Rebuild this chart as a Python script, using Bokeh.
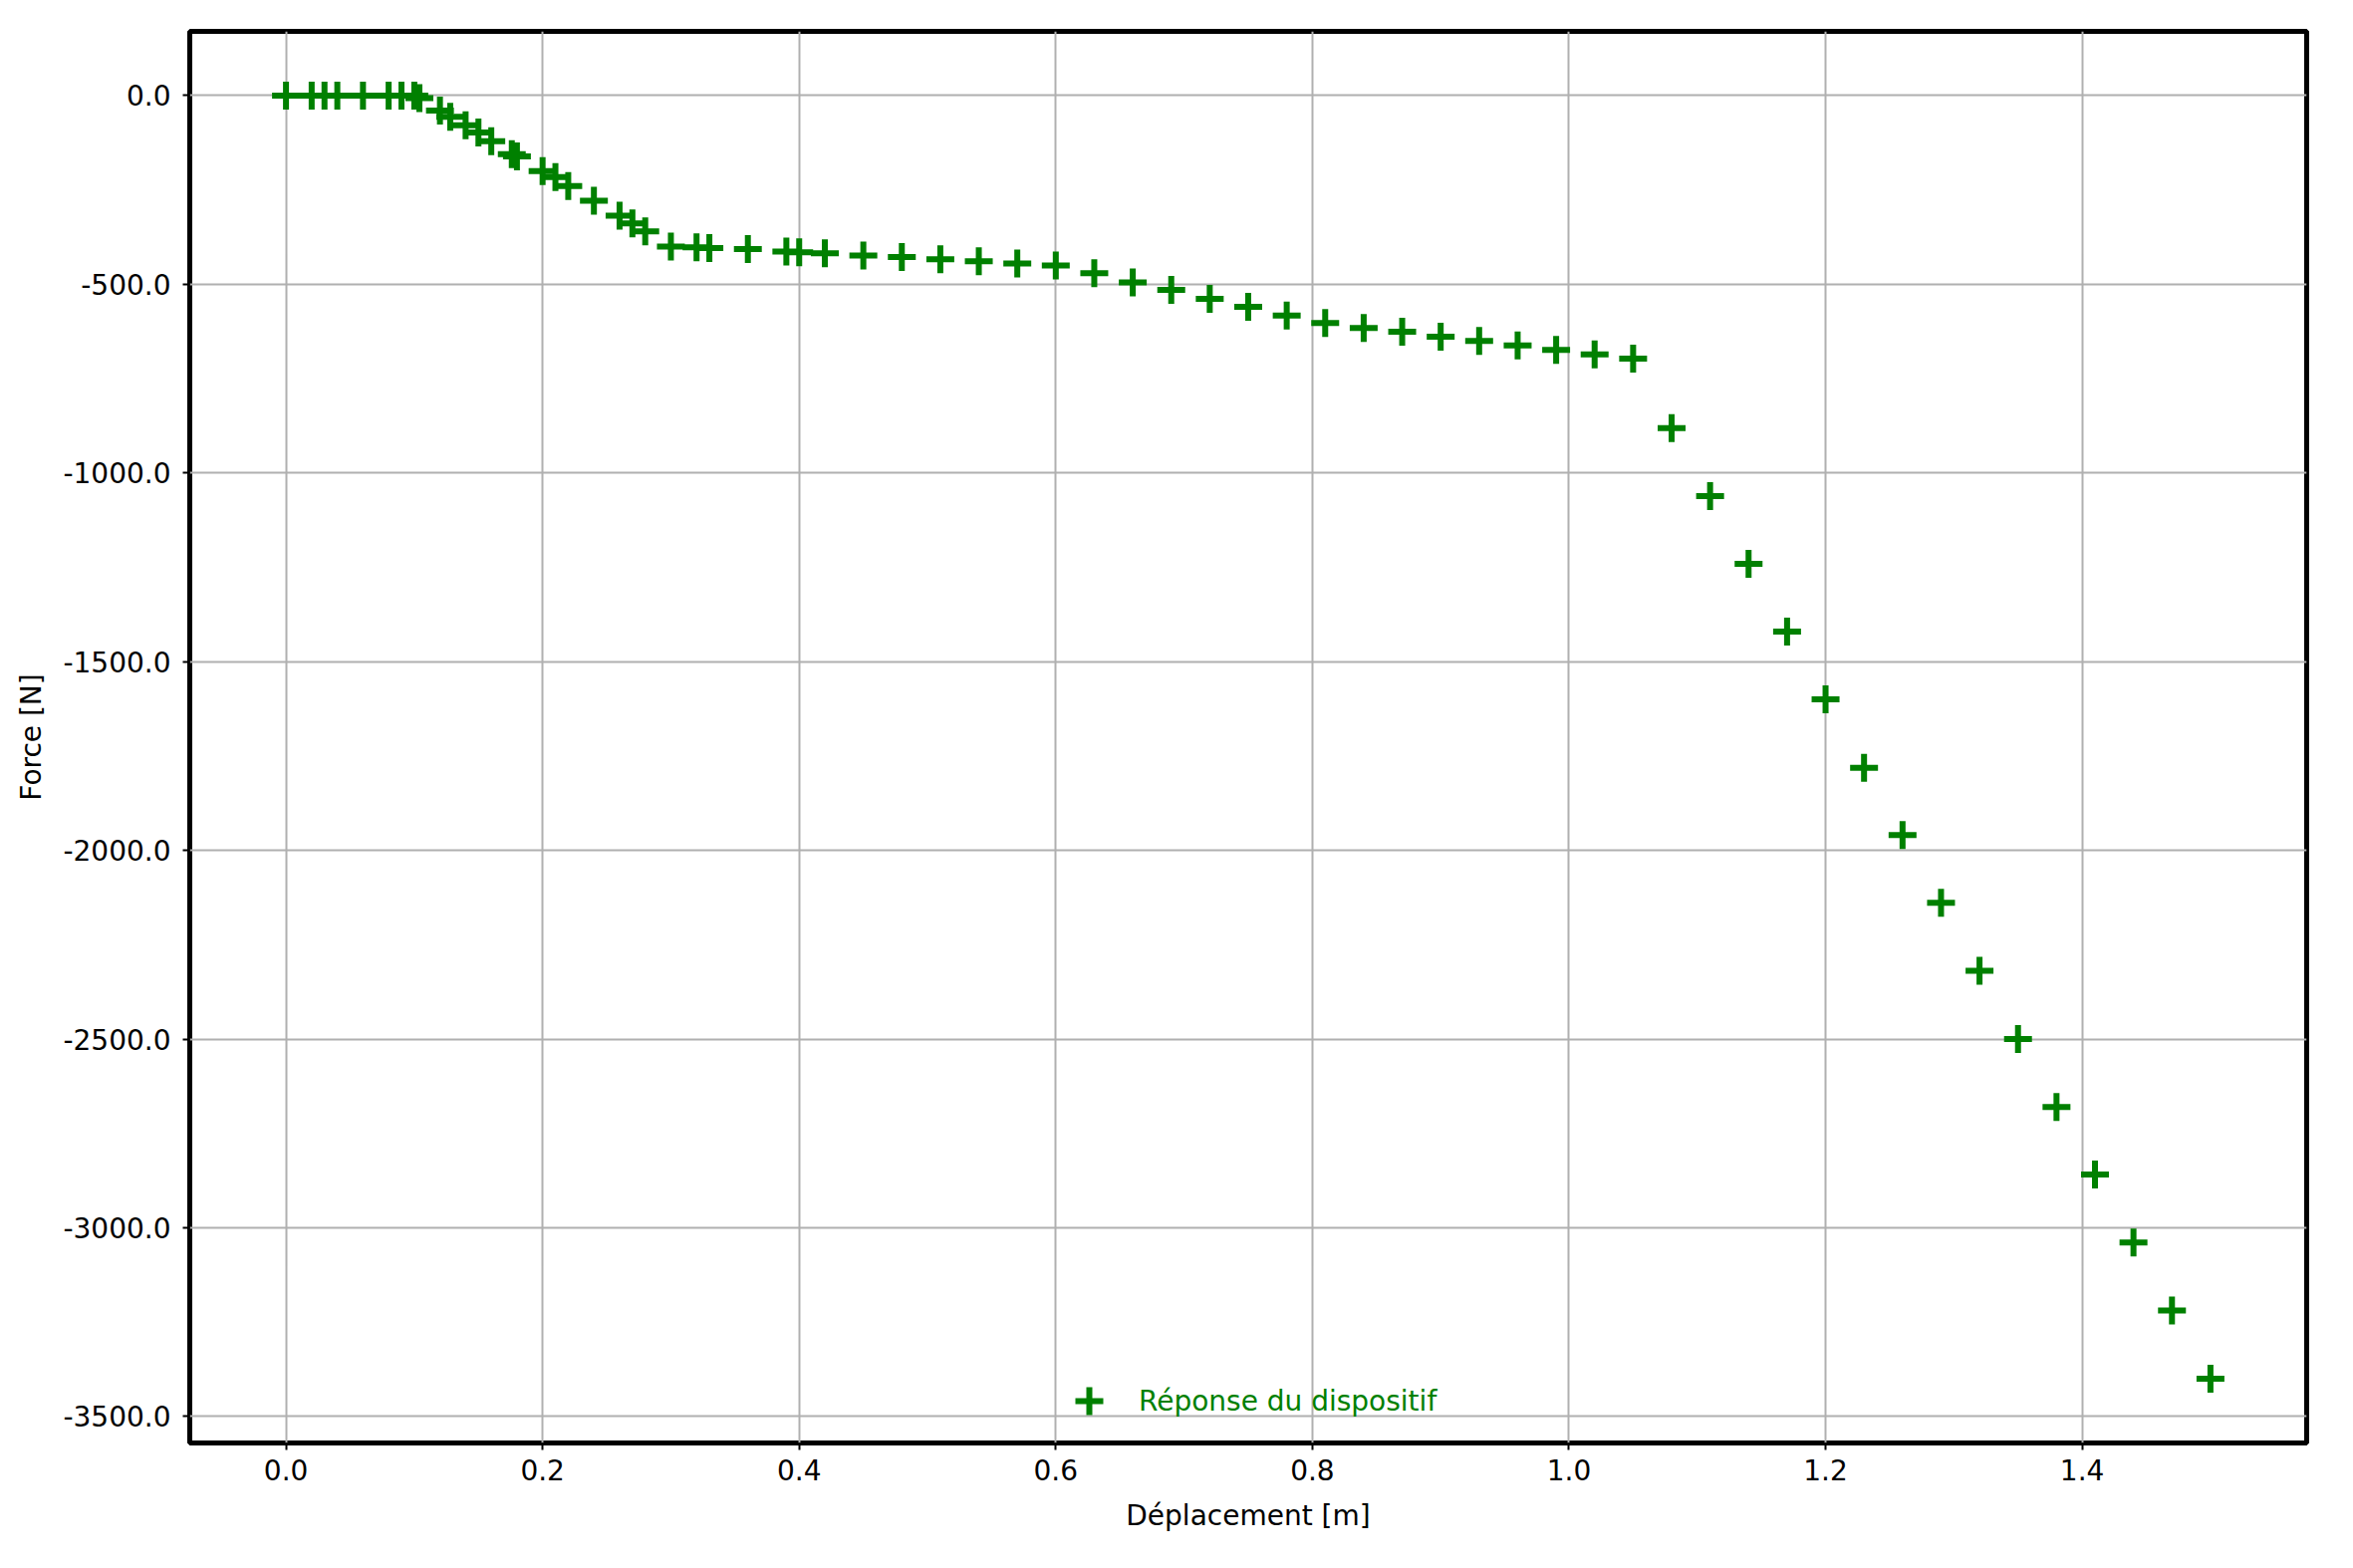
from bokeh.plotting import figure
from bokeh.models import Range1d, FixedTicker, PrintfTickFormatter, Legend, LegendItem
from bokeh.embed import file_html
from bokeh.resources import INLINE

# --- data ---
deplacement = [0.0, 0.02, 0.03, 0.04, 0.06, 0.08, 0.09, 0.10, 0.104, 0.12, 0.128, 0.14,
               0.15, 0.16, 0.176, 0.18, 0.20, 0.21, 0.22, 0.24, 0.26, 0.27, 0.28, 0.30,
               0.32, 0.33, 0.36, 0.39, 0.40, 0.42, 0.45, 0.48, 0.51, 0.54, 0.57, 0.60,
               0.63, 0.66, 0.69, 0.72, 0.75, 0.78, 0.81, 0.84, 0.87, 0.90, 0.93, 0.96,
               0.99, 1.02, 1.05, 1.08, 1.11, 1.14, 1.17, 1.20, 1.23, 1.26, 1.29, 1.32,
               1.35, 1.38, 1.41, 1.44, 1.47, 1.50]
force = [0, 0, 0, 0, 0, 0, 0, 0, -7, -40, -56, -79,
         -98, -121, -155, -161, -200, -216, -240, -279, -318, -339, -360, -400,
         -402, -404, -407, -413, -415, -418, -424, -428, -434, -439, -445, -450,
         -471, -495, -515, -539, -560, -583, -603, -616, -626, -639, -650, -662,
         -674, -686, -697, -881, -1061, -1241, -1420, -1600, -1781, -1959, -2139, -2319,
         -2500, -2680, -2859, -3039, -3219, -3400]
x_ticks = [0.0, 0.2, 0.4, 0.6, 0.8, 1.0, 1.2, 1.4]
y_ticks = [0, -500, -1000, -1500, -2000, -2500, -3000, -3500]
series_label = "Réponse du dispositif"
x_label = "Déplacement [m]"
y_label = "Force [N]"

FONT = "DejaVu Sans"
FS = "28px"

p = figure(frame_width=2125, frame_height=1417,
           min_border_left=190, min_border_top=31, min_border_right=31, min_border_bottom=110,
           x_range=Range1d(-0.075, 1.575), y_range=Range1d(-3570, 170),
           output_backend="svg", toolbar_location=None)
p.background_fill_color = "white"
p.border_fill_color = "white"
p.outline_line_color = "black"
p.outline_line_width = 5

r = p.scatter(deplacement, force, marker="cross", size=28, line_width=6,
              line_color="green", fill_color="green")

for ax, ticks in ((p.xaxis[0], x_ticks), (p.yaxis[0], y_ticks)):
    ax.ticker = FixedTicker(ticks=ticks, minor_ticks=[])
    ax.formatter = PrintfTickFormatter(format="%.1f")
    ax.major_label_text_font = FONT
    ax.major_label_text_font_size = FS
    ax.major_label_text_color = "black"
    ax.axis_label_text_font = FONT
    ax.axis_label_text_font_size = FS
    ax.axis_label_text_font_style = "normal"
    ax.axis_label_text_color = "black"
    ax.axis_line_color = None
    ax.major_tick_in = 0
    ax.major_tick_out = 7
    ax.major_tick_line_width = 2
    ax.major_tick_line_color = "black"
    ax.minor_tick_line_color = None

p.yaxis.major_label_standoff = 12
p.yaxis.axis_label_standoff = 12
p.xaxis.major_label_standoff = 9
p.xaxis.axis_label_standoff = 16

p.xaxis.axis_label = x_label
p.yaxis.axis_label = y_label

p.xgrid.ticker = FixedTicker(ticks=x_ticks)
p.ygrid.ticker = FixedTicker(ticks=y_ticks)
for g in (p.xgrid[0], p.ygrid[0]):
    g.grid_line_color = "#b0b0b0"
    g.grid_line_width = 2

legend = Legend(items=[LegendItem(label=series_label, renderers=[r])],
                location=(868, 7), margin=0, padding=0,
                glyph_width=70, glyph_height=70, label_standoff=15,
                label_text_font=FONT, label_text_font_size=FS,
                label_text_color="green", label_height=28,
                border_line_color=None, background_fill_alpha=0)
p.add_layout(legend, "center")

open("out.html", "w").write(file_html(p, INLINE))
